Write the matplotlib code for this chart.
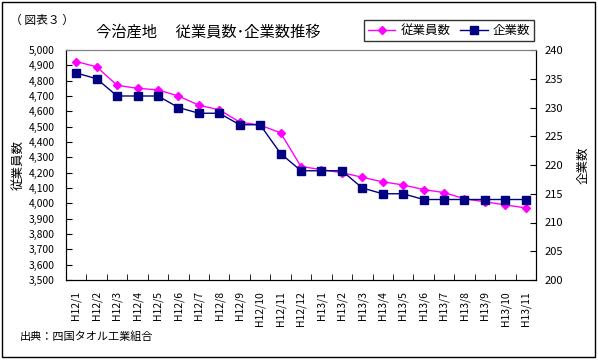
import matplotlib
matplotlib.use("Agg")
import matplotlib.pyplot as plt
from matplotlib.patches import Rectangle
from matplotlib.ticker import FuncFormatter, MultipleLocator

plt.rcParams['font.family'] = ['Noto Sans CJK JP', 'DejaVu Sans']

# データ
months = ["H12/1", "H12/2", "H12/3", "H12/4", "H12/5", "H12/6", "H12/7", "H12/8",
          "H12/9", "H12/10", "H12/11", "H12/12", "H13/1", "H13/2", "H13/3", "H13/4",
          "H13/5", "H13/6", "H13/7", "H13/8", "H13/9", "H13/10", "H13/11"]
employees = [4925, 4890, 4770, 4750, 4740, 4700, 4640, 4610, 4530, 4510, 4460, 4240,
             4220, 4200, 4170, 4140, 4120, 4090, 4070, 4030, 4010, 3990, 3970]
companies = [236, 235, 232, 232, 232, 230, 229, 229, 227, 227, 222, 219,
             219, 219, 216, 215, 215, 214, 214, 214, 214, 214, 214]

W, H = 598, 363
fig = plt.figure(figsize=(W / 100, H / 100), dpi=100)

# 外枠
fig.patches.append(Rectangle((2 / W, 1 - 357 / H), 593 / W, 355 / H,
                             transform=fig.transFigure, fill=False,
                             edgecolor="black", linewidth=1))

# 描画領域
left, right, top, bottom = 66, 536, 50, 280
ax = fig.add_axes([left / W, 1 - bottom / H, (right - left) / W, (bottom - top) / H])
ax2 = ax.twinx()

x = range(len(months))
l1, = ax.plot(x, employees, color="#FF00FF", marker="D", markersize=4,
              linewidth=1, label="従業員数")
l2, = ax2.plot(x, companies, color="#000080", marker="s", markersize=5.5,
               linewidth=1, label="企業数")

ax.set_xlim(-0.5, len(months) - 0.5)
ax.set_ylim(3500, 5000)
ax2.set_ylim(200, 240)
ax.yaxis.set_major_locator(MultipleLocator(100))
ax2.yaxis.set_major_locator(MultipleLocator(5))
ax.yaxis.set_major_formatter(FuncFormatter(lambda v, p: f"{int(v):,}"))

ax.set_xticks(list(x))
ax.set_xticklabels(months, rotation=90, fontsize=7.5)
ax.set_xticks([i - 0.5 for i in range(len(months) + 1)], minor=True)
ax.tick_params(axis="x", which="major", length=0, pad=8)
ax.tick_params(axis="x", which="minor", direction="in", length=4)
ax.tick_params(axis="y", direction="in", length=4, labelsize=7.5, pad=8)
ax2.tick_params(axis="y", direction="in", length=4, labelsize=8, pad=6)

for a in (ax, ax2):
    a.spines["top"].set_color("#808080")
ax.set_facecolor("white")

ax.set_ylabel("従業員数", fontsize=9)
ax2.set_ylabel("企業数", fontsize=9)
ax.yaxis.set_label_coords(-0.087, 0.5)
ax2.yaxis.set_label_coords(1.087, 0.5)

fig.text(10 / W, 1 - 20 / H, "（ 図表３ ）", fontsize=8.5, va="center", ha="left")
fig.text(208 / W, 1 - 32 / H, "今治産地　 従業員数･企業数推移", fontsize=11,
         va="center", ha="center")
fig.text(20 / W, 1 - 337 / H, "出典：四国タオル工業組合", fontsize=8,
         va="center", ha="left")

leg = fig.legend([l1, l2], ["従業員数", "企業数"], loc="center",
                 bbox_to_anchor=(449 / W, 1 - 30.5 / H), ncol=2, fontsize=9,
                 frameon=True, fancybox=False, edgecolor="black",
                 handlelength=2.2, handletextpad=0.4, columnspacing=0.8,
                 borderpad=0.3)
leg.get_frame().set_linewidth(1)

fig.savefig("out.png", dpi=100)
